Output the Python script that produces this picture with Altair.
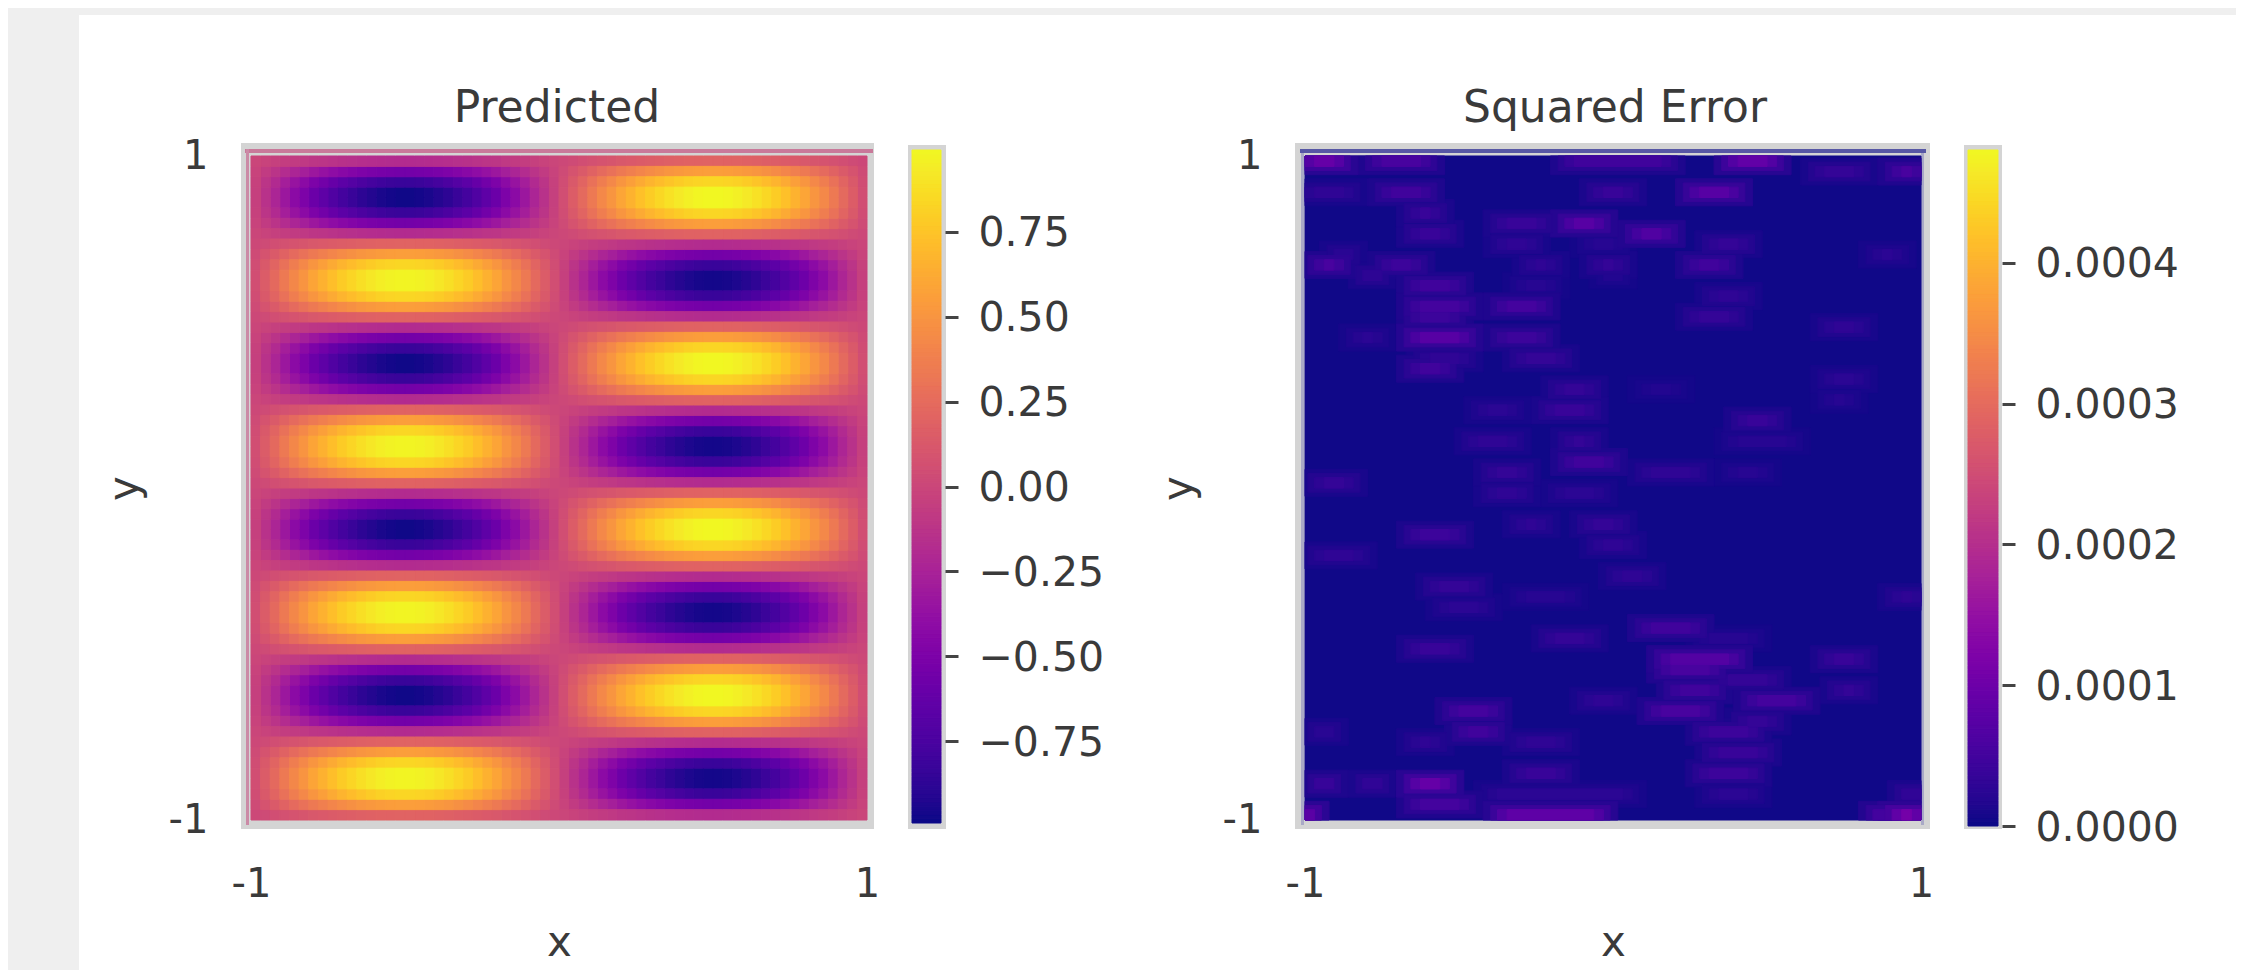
import altair as alt
import pandas as pd

# Predicted panel: profiles (64 columns x 64 rows)
x_left = [.05,.15,.24,.34,.43,.51,.60,.67,.74,.80,.85,.90,.94,.97,.99,1.0,
          1.0,.99,.97,.94,.90,.85,.80,.74,.67,.60,.51,.43,.34,.24,.15,.05]
x_right = [-.05,-.15,-.24,-.34,-.43,-.51,-.60,-.67,-.74,-.80,-.85,-.90,-.94,-.97,-.99,-1.0,
           -1.0,-.99,-.97,-.94,-.90,-.85,-.80,-.74,-.67,-.60,-.51,-.43,-.34,-.24,-.15,-.05]
y_rows = [-.19,-.55,-.83,-.98,-.98,-.83,-.55,-.19,  .19,.55,.83,.97,.97,.83,.55,.19,
          -.19,-.55,-.83,-.98,-.98,-.83,-.55,-.19,  .19,.55,.83,.97,.97,.83,.55,.19,
          -.19,-.55,-.83,-.98,-.98,-.83,-.55,-.19,  .19,.55,.83,.97,.97,.83,.55,.19,
          -.19,-.55,-.83,-.98,-.98,-.83,-.55,-.19,  .19,.55,.83,.97,.97,.83,.55,.19]

# Squared error panel: brighter patches
err_row = [0,0,0,0,1,1,3,3,3,3,5,6,6,7,7,8,8,8,9,9,10,10,10,10,10,11,11,12,12,13,14,14,15,15,17,17,17,16,
           19,20,19,22,21,22,24,24,25,23,27,27,27,29,30,30,30,31,32,32,35,35,36,37,38,40,41,42,43,42,45,46,46,
           47,48,48,49,50,51,52,51,53,52,53,54,55,55,55,56,57,56,60,60,60,59,59,62,61,61,63,63,63,63,61]
err_c0 = [0,7,27,44,53,61,0,8,30,40,11,20,27,34,11,20,29,42,59,3,1,8,23,30,40,6,31,11,22,42,11,20,11,40,5,11,20,54,
          12,11,22,26,54,35,25,18,45,54,27,17,44,27,19,35,44,1,19,26,22,29,11,30,1,32,13,61,14,22,35,25,41,
          11,54,37,37,43,38,46,55,15,29,36,45,16,41,1,22,42,11,11,1,6,22,41,11,19,42,20,0,61,59,62]
err_c1 = [4,13,38,49,58,64,5,13,34,45,14,25,31,38,15,24,33,46,62,5,4,12,26,33,44,8,33,16,26,46,17,25,16,45,8,17,25,58,
          17,15,27,30,58,39,30,22,49,57,30,22,51,32,23,41,48,5,23,31,25,33,16,34,6,36,18,64,19,28,41,30,47,
          16,58,45,43,49,43,52,58,20,33,42,49,20,47,3,27,48,14,15,3,8,27,47,17,34,47,31,1,64,61,64]
err_val = [1.0,.6,.5,.95,.35,.6,.3,.5,.4,.8,.4,.4,.8,.7,.4,.3,.2,.35,.25,.3,.6,.45,.3,.35,.5,.35,.2,.5,.2,.3,.55,.55,.45,.35,.25,.8,.45,.3,
           .3,.5,.35,.35,.25,.15,.4,.25,.4,.2,.35,.3,.2,.5,.35,.3,.2,.35,.3,.25,.3,.35,.45,.3,.3,.3,.35,.3,.25,.2,.5,.35,.2,
           .4,.4,.75,.6,.35,.5,.55,.35,.55,.3,.6,.35,.5,.45,.3,.3,.4,.3,1.0,.5,.4,.4,.45,.55,.25,.25,.9,1.1,1.2,.7,.4]

pred_ticks = [-0.75,-0.5,-0.25,0,0.25,0.5,0.75]
err_ticks = [0,0.0001,0.0002,0.0003,0.0004]

W, H = 2228, 962
FONT = "DejaVu Sans"
TXT = "#3a3a3a"
FRAME = "#d4d4d4"

x_prof = x_left + x_right
n = 64
pred = pd.DataFrame([
    {"x0": -1+2*c/n, "x1": -1+2*(c+1)/n, "y0": 1-2*r/n, "y1": 1-2*(r+1)/n, "v": x_prof[c]*y_rows[r]}
    for r in range(n) for c in range(n)])

spots = [{"x0": -1, "x1": 1, "y0": 1, "y1": -1, "v": 2e-6}]
for r, a, b, v in zip(err_row, err_c0, err_c1, err_val):
    for grow, hgrow, k in [(1.5, .8, .2), (.7, .4, .42), (0, 0, .68), (-1, 0, .88)]:
        lo, hi = a-grow, b+grow
        if hi <= lo:
            continue
        spots.append({"x0": -1+2*max(lo,0)/n, "x1": -1+2*min(hi,n)/n,
                      "y0": 1-2*max(r-hgrow,0)/n, "y1": 1-2*min(r+1+hgrow,n)/n,
                      "v": 2e-6 + v*1e-4*k})
err = pd.DataFrame(spots).sort_values("v")

def deco(x0, x1, y0, y1, color):
    return alt.Chart(alt.Data(values=[{"a": 1}])).mark_rect(color=color).encode(
        x=alt.value(x0-8), x2=alt.value(x1-8), y=alt.value(y0-8), y2=alt.value(y1-8))

def heat(df, domain, xr, yr):
    axis_x = alt.Axis(values=[-1,1], labelExpr="datum.value < 0 ? '-1' : '1'", orient="bottom",
                      domain=False, ticks=False, grid=False, labelFlush=False,
                      offset=-(H-(yr[0]-8)), labelPadding=44, labelFontSize=40, labelFont=FONT, labelColor=TXT,
                      title="x", titleFontSize=42, titleFont=FONT, titleColor=TXT, titleFontWeight="normal",
                      titlePadding=18, labelAngle=0, zindex=1)
    axis_y = alt.Axis(values=[-1,1], labelExpr="datum.value < 0 ? '-1' : '1'", orient="left",
                      domain=False, ticks=False, grid=False, labelFlush=False,
                      offset=-(xr[0]-8), labelPadding=43, labelFontSize=40, labelFont=FONT, labelColor=TXT,
                      title="y", titleFontSize=42, titleFont=FONT, titleColor=TXT, titleFontWeight="normal",
                      titlePadding=22, labelBaseline="middle", zindex=1)
    xs = alt.Scale(domain=[-1,1], range=[xr[0]-8, xr[1]-8], nice=False, zero=False)
    ys = alt.Scale(domain=[-1,1], range=[yr[0]-8, yr[1]-8], nice=False, zero=False)
    cs = alt.Scale(scheme="plasma", domain=domain)
    return alt.Chart(df).mark_rect(strokeWidth=1).encode(
        x=alt.X("x0:Q", scale=xs, axis=axis_x),
        x2="x1:Q",
        y=alt.Y("y0:Q", scale=ys, axis=axis_y),
        y2="y1:Q",
        color=alt.Color("v:Q", scale=cs, legend=None),
        stroke=alt.Stroke("v:Q", scale=cs, legend=None),
        order=alt.Order("v:Q"),
    )

def cbar(domain, ticks, fmt, xr, yr):
    levels = [domain[0]+(domain[1]-domain[0])*i/160 for i in range(161)]
    df = pd.DataFrame({"lo": levels[:-1], "hi": levels[1:]})
    ys = alt.Scale(domain=domain, range=[yr[0]-8, yr[1]-8], nice=False, zero=False)
    cs = alt.Scale(scheme="plasma", domain=domain)
    axis = alt.Axis(values=ticks, format=fmt, orient="right", domain=False, grid=False, title=None,
                    offset=-(W-(xr[1]+4-8)), tickSize=13, tickWidth=3, tickColor="#444444", labelOffset=2,
                    labelPadding=20, labelFontSize=41, labelFont=FONT, labelColor=TXT, zindex=1)
    return alt.Chart(df).mark_rect(strokeWidth=1).encode(
        x=alt.value(xr[0]-8), x2=alt.value(xr[1]-8),
        y=alt.Y("lo:Q", scale=ys, axis=axis), y2="hi:Q",
        color=alt.Color("lo:Q", scale=cs, legend=None),
        stroke=alt.Stroke("lo:Q", scale=cs, legend=None),
    )

def label(text, x, y, size):
    return alt.Chart(alt.Data(values=[{"a": 1}])).mark_text(
        font=FONT, fontSize=size, color=TXT, align="center", baseline="middle").encode(
        x=alt.value(x-8), y=alt.value(y-8), text=alt.value(text))

layers = [
    deco(79, 2244, 15, 971, "#ffffff"),
    deco(241, 874, 143, 829, FRAME),
    deco(245, 873, 149, 153, "#c9799a"),
    deco(246, 249, 149, 825, "#cb8aa6"),
    heat(pred, [-0.99,0.99], (251,867), (820,156)),
    deco(908, 946, 145, 829, FRAME),
    cbar([-0.99,0.99], pred_ticks, ".2f", (912,941), (823,150)),
    deco(1295, 1930, 143, 829, FRAME),
    deco(1300, 1926, 149, 153, "#5757a5"),
    deco(1301, 1304, 153, 825, "#a9a9c6"),
    deco(1921, 1924, 153, 825, "#a9a9c6"),
    heat(err, [0,0.00048], (1305,1921), (820,156)),
    deco(1964, 2002, 145, 829, FRAME),
    cbar([0,0.00048], err_ticks, ".4f", (1968,1998), (826,150)),
    label("Predicted", 557, 109, 44),
    label("Squared Error", 1615, 109, 44),
]

chart = alt.layer(*layers).resolve_scale(
    x="independent", y="independent", color="independent", stroke="independent"
).resolve_axis(x="independent", y="independent").properties(
    width=W, height=H, padding=0, autosize=alt.AutoSizeParams(type="none"), background="#efefef"
).configure_view(stroke=None)

chart.save("out.html", embed_options={"renderer": "svg", "actions": False})
